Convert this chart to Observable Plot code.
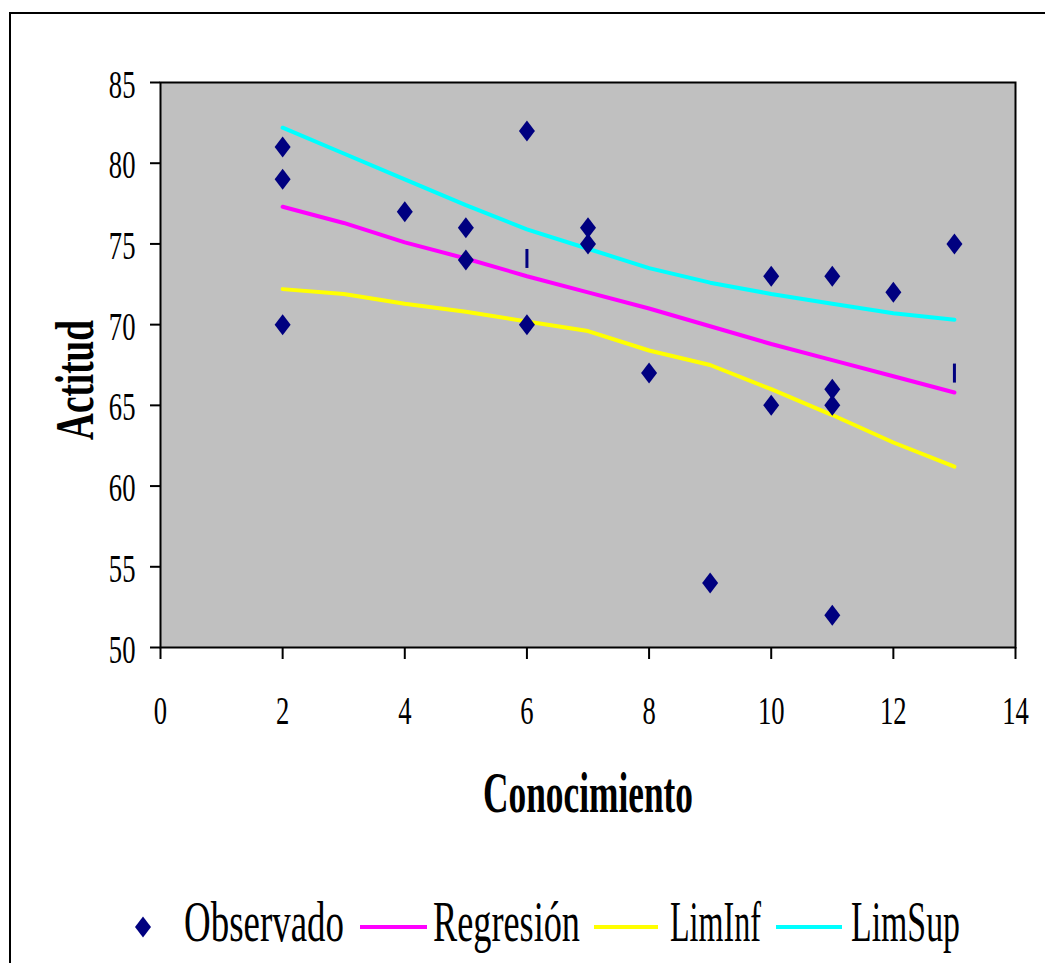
<!DOCTYPE html>
<html><head><meta charset="utf-8">
<script src="https://cdn.jsdelivr.net/npm/d3@7"></script>
<script src="https://cdn.jsdelivr.net/npm/@observablehq/plot@0.6"></script>
<style>
html,body{margin:0;padding:0;background:#fff;overflow:hidden;width:1045px;height:963px;}
#outer{position:absolute;left:9px;top:12px;width:1100px;height:1100px;border:2px solid #000;box-sizing:border-box;}
#chart{position:absolute;left:0;top:0;}
#legend{position:absolute;left:0;top:870px;}
g[aria-label$="-axis tick"]{stroke-width:2px;}
.tick line{stroke-width:2px;}
</style></head><body>
<div id="outer"></div>
<div id="chart"></div>
<svg id="legend" width="1045" height="93"></svg>
<script>
// Observed points (Conocimiento, Actitud)
const obsX = [2,2,2,4,5,5,6,6,7,7,8,9,10,10,11,11,11,11,12,13];
const obsY = [81,79,70,77,76,74,82,70,76,75,67,54,73,65,73,66,65,52,72,75];
// small vertical-bar markers
const barX = [6,13];
const barY = [74.1,67];
// line series
const lineX = [2,3,4,5,6,7,8,9,10,11,12,13];
const regresion = [77.3,76.3,75.1,74.1,73.0,72.0,71.0,69.9,68.8,67.8,66.8,65.8];
const limInf = [72.2,71.9,71.3,70.8,70.2,69.6,68.4,67.5,66.0,64.4,62.7,61.2];
const limSup = [82.2,80.6,79.0,77.4,75.9,74.7,73.5,72.6,71.9,71.3,70.7,70.3];
const xTicks = [0,2,4,6,8,10,12,14];
const yTicks = [50,55,60,65,70,75,80,85];
const seriesNames = ["Observado","Regresión","LimInf","LimSup"];
const seriesColors = ["#000080","#FF00FF","#FFFF00","#00FFFF"];
const xLabel = "Conocimiento";
const yLabel = "Actitud";

const diamond = {draw(ctx){ctx.moveTo(0,-10.5);ctx.lineTo(8,0);ctx.lineTo(0,10.5);ctx.lineTo(-8,0);ctx.closePath();}};
const vbar = {draw(ctx){ctx.moveTo(0,-9.5);ctx.lineTo(0,9.5);}};
const FONT = "'Liberation Serif','Times New Roman',serif";
const SX = 0.65;

const series = [[regresion,seriesColors[1]],[limInf,seriesColors[2]],[limSup,seriesColors[3]]];

const svg = Plot.plot({
  width:1045, height:870,
  marginLeft:160, marginRight:30, marginTop:82, marginBottom:223,
  style:{fontFamily:FONT, fontSize:"41px", background:"transparent", color:"#000"},
  x:{domain:[0,14], ticks:xTicks, tickSize:12, tickPadding:35, label:null},
  y:{domain:[50,85], ticks:yTicks, tickSize:10, tickPadding:15, label:null},
  marks:[
    Plot.frame({fill:"#C0C0C0"}),
    ...series.map(([vals,col]) => Plot.line(lineX,{x:d=>d, y:(d,i)=>vals[i], stroke:col, strokeWidth:4})),
    Plot.dot(obsX,{x:d=>d, y:(d,i)=>obsY[i], symbol:diamond, fill:seriesColors[0], stroke:null}),
    Plot.dot(barX,{x:d=>d, y:(d,i)=>barY[i], symbol:vbar, stroke:seriesColors[0], strokeWidth:3, fill:"none"}),
    Plot.frame({stroke:"#000", strokeWidth:2}),
    Plot.text([xLabel],{text:d=>d, frameAnchor:"bottom", dy:147, lineAnchor:"middle", textAnchor:"middle", fontSize:56, fontWeight:"bold"}),
    Plot.text([yLabel],{text:d=>d, frameAnchor:"left", dx:-85, dy:15, rotate:-90, lineAnchor:"middle", textAnchor:"middle", fontSize:54, fontWeight:"bold"})
  ]
});
document.getElementById("chart").appendChild(svg);

// condensed look of the original: fixed lengths for titles, horizontal squeeze for ticks
const fitWidth = {[xLabel]:210, [yLabel]:120};
svg.querySelectorAll("text").forEach(t=>{
  const txt = t.textContent;
  let tr = t.getAttribute("transform") || "";
  const x = t.getAttribute("x");
  if (x !== null){ tr += ` translate(${x},0)`; t.removeAttribute("x"); }
  if (fitWidth[txt]){
    t.setAttribute("textLength", fitWidth[txt]);
    t.setAttribute("lengthAdjust","spacingAndGlyphs");
    if (tr) t.setAttribute("transform", tr.trim());
    return;
  }
  const g = t.closest("g[aria-label]");
  const shift = g && /y-axis/.test(g.getAttribute("aria-label")) ? " translate(0,2)" : "";
  t.setAttribute("transform", (tr + shift + ` scale(${SX},1)`).trim());
});

// Legend
const leg = d3.select("#legend");
const cy = 57, base = 71;
const items = [
  {kind:"dot", sx:143, tx:184, w:160},
  {kind:"line", x1:360, x2:427, tx:433, w:147},
  {kind:"line", x1:594, x2:658, tx:670, w:91},
  {kind:"line", x1:776, x2:842, tx:851, w:109}
];
items.forEach((it,i)=>{
  if (it.kind==="dot"){
    leg.append("path").attr("d","M0,-10.5L8,0L0,10.5L-8,0Z").attr("fill",seriesColors[i])
      .attr("transform",`translate(${it.sx},${cy})`);
  } else {
    leg.append("line").attr("x1",it.x1).attr("x2",it.x2).attr("y1",cy).attr("y2",cy)
      .attr("stroke",seriesColors[i]).attr("stroke-width",4);
  }
  leg.append("text").text(seriesNames[i]).attr("font-family",FONT).attr("font-size",56)
    .attr("fill","#000").attr("x",it.tx).attr("y",base)
    .attr("textLength",it.w).attr("lengthAdjust","spacingAndGlyphs");
});
</script>
</body></html>
